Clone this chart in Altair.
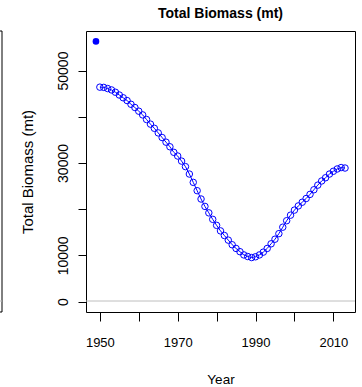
import altair as alt
import pandas as pd

years = [1950, 1951, 1952, 1953, 1954, 1955, 1956, 1957, 1958, 1959,
         1960, 1961, 1962, 1963, 1964, 1965, 1966, 1967, 1968, 1969,
         1970, 1971, 1972, 1973, 1974, 1975, 1976, 1977, 1978, 1979,
         1980, 1981, 1982, 1983, 1984, 1985, 1986, 1987, 1988, 1989,
         1990, 1991, 1992, 1993, 1994, 1995, 1996, 1997, 1998, 1999,
         2000, 2001, 2002, 2003, 2004, 2005, 2006, 2007, 2008, 2009,
         2010, 2011, 2012, 2013]
biomass = [46400, 46350, 46100, 45800, 45300, 44700, 44100, 43500, 42700, 42000,
           41200, 40400, 39400, 38400, 37500, 36500, 35500, 34500, 33500, 32300,
           31500, 30400, 29200, 27600, 25800, 24000, 22200, 20600, 19200, 17800,
           16500, 15300, 14300, 13300, 12300, 11500, 10800, 10100, 9750, 9530,
           9700, 10100, 10700, 11500, 12500, 13500, 14700, 16100, 17500, 18700,
           19800, 20700, 21500, 22300, 23200, 24200, 25200, 26100, 26800, 27600,
           28200, 28700, 29000, 28900]
init_year = [1949]
init_biomass = [56300]

x_ticks = [1950, 1960, 1970, 1980, 1990, 2000, 2010]
y_ticks = [0, 10000, 20000, 30000, 40000, 50000]

df = pd.DataFrame({"Year": years, "Biomass": biomass})
df0 = pd.DataFrame({"Year": init_year, "Biomass": init_biomass})

FONT = "Liberation Sans"
BLUE = "#0000FF"

xscale = alt.Scale(domain=[1946.44, 2015.56], nice=False, zero=False)
yscale = alt.Scale(domain=[-2252, 58552], nice=False, zero=False)

xaxis = alt.Axis(values=x_ticks, format="d", domain=False, grid=False,
                 ticks=True, tickColor="black", tickSize=9, tickWidth=1,
                 labelExpr="datum.value % 20 == 0 ? '' : datum.label",
                 labelFont=FONT, labelFontSize=13, labelColor="black",
                 labelBaseline="alphabetic", labelPadding=25,
                 labelOverlap=False, labelFlush=False,
                 title="Year", titleFont=FONT, titleFontSize=13.5,
                 titleFontWeight="normal", titleColor="black",
                 titleBaseline="alphabetic", titleY=71)
yaxis = alt.Axis(values=y_ticks, format="d", domain=False, grid=False,
                 ticks=True, tickColor="black", tickSize=8, tickWidth=1,
                 labelExpr="(datum.value == 20000 || datum.value == 40000) ? '' : datum.label",
                 labelFont=FONT, labelFontSize=14, labelColor="black",
                 labelAngle=-90, labelAlign="center", labelBaseline="alphabetic",
                 labelPadding=11, labelOverlap=False, labelFlush=False,
                 title="Total Biomass (mt)", titleFont=FONT, titleFontSize=15,
                 titleFontWeight="normal", titleColor="black",
                 titleBaseline="alphabetic", titleX=-54)

X = alt.X("Year:Q", scale=xscale, axis=xaxis)
Y = alt.Y("Biomass:Q", scale=yscale, axis=yaxis)

one = pd.DataFrame({"a": [0]})

left_box = alt.Chart(one).mark_rect(fill="transparent", stroke="black", strokeWidth=1).encode(
    x=alt.value(-200), x2=alt.value(-84), y=alt.value(0), y2=alt.value(281))
left_zero = alt.Chart(one).mark_rule(color="#BEBEBE", strokeWidth=1).encode(
    x=alt.value(-200), x2=alt.value(-84), y=alt.value(270))
zero_line = alt.Chart(one).mark_rule(color="#BEBEBE", strokeWidth=1).encode(
    y=alt.value(270))

line = alt.Chart(df).mark_line(color=BLUE, strokeWidth=1).encode(x=X, y=Y)
pts = alt.Chart(df).mark_point(shape="circle", filled=False, color=BLUE,
                                size=42, strokeWidth=1, opacity=1).encode(x=X, y=Y)
first = alt.Chart(df0).mark_point(shape="circle", filled=True, color=BLUE,
                                   size=44, opacity=1).encode(x=X, y=Y)

chart = alt.layer(left_box, left_zero, zero_line, line, pts, first).properties(
    width=269, height=281,
    padding={"left": 86, "top": 31, "right": 7, "bottom": 75},
    autosize=alt.AutoSizeParams(type="none"),
    background="white",
    title=alt.TitleParams("Total Biomass (mt)", font=FONT, fontSize=14,
                          fontWeight="bold", color="black", anchor="middle",
                          frame="group", baseline="alphabetic", offset=13, dy=14),
).configure_view(stroke="black", strokeWidth=1)

chart.save("out.html", embed_options={"renderer": "svg", "actions": False})
